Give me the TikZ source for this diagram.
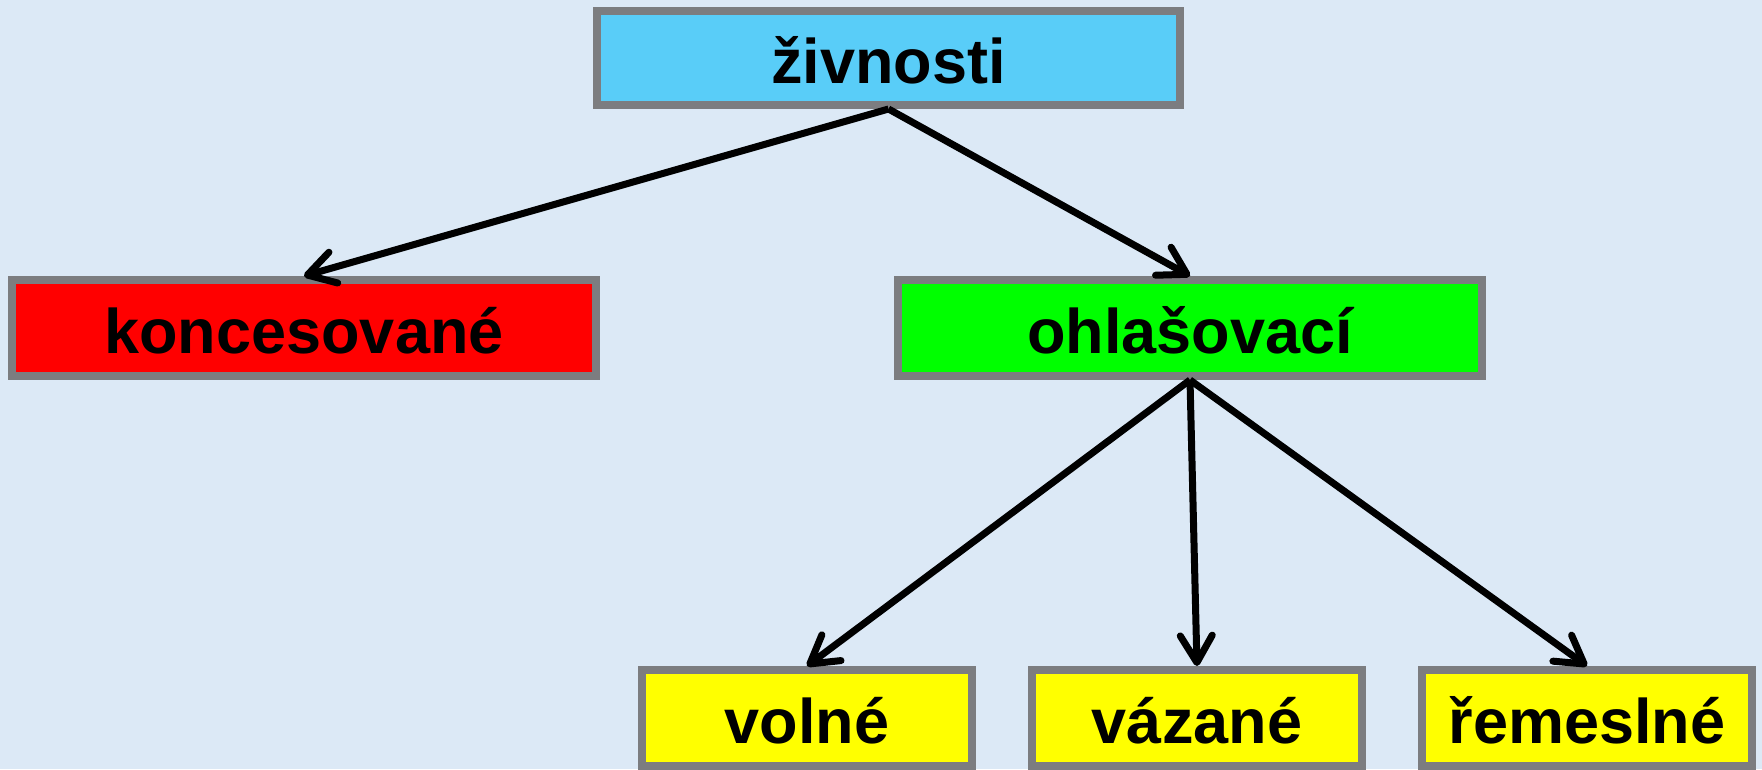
\documentclass[tikz,border=0pt]{standalone}
\usepackage{fontspec}
\setmainfont{Liberation Sans}
\usetikzlibrary{arrows.meta}
\definecolor{bgblue}{RGB}{220,233,246}
\definecolor{bordergray}{RGB}{124,125,128}
\definecolor{cyanbox}{RGB}{89,205,248}
\definecolor{redbox}{RGB}{255,0,0}
\definecolor{greenbox}{RGB}{0,255,0}
\definecolor{yellowbox}{RGB}{255,255,0}
\begin{document}
\begin{tikzpicture}[x=1pt,y=-1pt,
  box/.style={draw=bordergray, line width=8pt, minimum height=96pt, inner sep=0pt,
    font=\fontsize{63}{70}\selectfont\bfseries, text height=50pt, text depth=0pt},
  conn/.style={line width=7pt, draw=black,
    -{Straight Barb[length=27pt,width=32pt,line cap=round,line join=round]}}]
\useasboundingbox (0,0) rectangle (1762,769);
\clip (0,0) rectangle (1762,769);
\fill[bgblue] (0,0) rectangle (1762,769);
\node[box, fill=cyanbox, minimum width=583pt, minimum height=94pt] (ziv) at (888.5,58) {živnosti};
\node[box, fill=redbox, minimum width=584pt] (kon) at (304,328) {koncesované};
\node[box, fill=greenbox, minimum width=584pt] (ohl) at (1190,328) {ohlašovací};
\node[box, fill=yellowbox, minimum width=330pt] (vol) at (807,718) {volné};
\node[box, fill=yellowbox, minimum width=330pt] (vaz) at (1197,718) {vázané};
\node[box, fill=yellowbox, minimum width=330pt] (rem) at (1587,718) {řemeslné};
\draw[conn] (ziv.south) -- (kon.north);
\draw[conn] (ziv.south) -- (ohl.north);
\draw[conn] (ohl.south) -- (vol.north);
\draw[conn] (ohl.south) -- (vaz.north);
\draw[conn] (ohl.south) -- (rem.north);
\end{tikzpicture}
\end{document}
